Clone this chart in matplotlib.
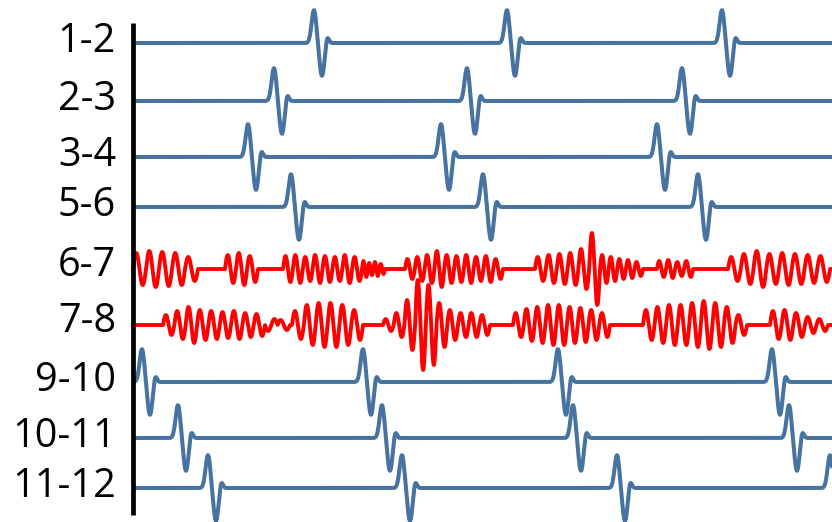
import matplotlib.pyplot as plt
import numpy as np

plt.rcParams['font.family'] = ['Open Sans', 'DejaVu Sans']

# blue channels with regular complexes
blue_labels = ['1-2', '2-3', '3-4', '5-6', '9-10', '10-11', '11-12']
blue_baselines = [43, 101, 157, 207, 382, 438, 488]
blue_peaks = [
    [314, 507, 722],
    [274, 467, 682],
    [248, 441, 657],
    [291, 483, 698],
    [142, 363, 558, 772],
    [178, 382, 573, 789],
    [208, 402, 617, 830],
]

# complex shape: lobe offset from first peak, height, width (px)
lobe_offsets = [0, 8, 13]
lobe_heights = [33, -33, 8]
lobe_widths = [2.4, 2.5, 1.7]

# red channels (fibrillation): bursts as (start, end, amplitude of each cycle)
red_labels = ['6-7', '7-8']
red_baselines = [269, 325]
red_bursts = [
    [(133, 198, [16, 18, 17, 16, 12]),
     (225, 258, [14, 16, 13]),
     (283, 362, [13, 14, 12, 14, 13, 12, 14, 12]),
     (362, 385, [8, 6, 7, 5]),
     (405, 503, [10, 12, 14, 18, 14, 13, 14, 12, 13, 10]),
     (535, 600, [12, 14, 15, 16, 20, 36]),
     (600, 643, [14, 12, 10, 9, 7]),
     (657, 693, [8, 9, 7, 8]),
     (728, 830, [12, 15, 18, 15, 16, 15, 14, 13])],
    [(163, 265, [10, 14, 18, 15, 14, 13, 14, 12, 11]),
     (265, 290, [-6, 5]),
     (292, 363, [14, 20, 22, 22, 20, 15]),
     (383, 490, [6, 12, 25, 45, 40, 22, 15, 12, 12, 10]),
     (513, 610, [12, 16, 18, 20, 20, 18, 17, 15, 12]),
     (643, 747, [15, 18, 20, 20, 22, 24, 22, 18, 10]),
     (770, 828, [14, 15, 12, 8, 6])],
]

blue = '#4673A0'
red = '#FF0000'

fig = plt.figure(figsize=(8.32, 5.22), dpi=100)
ax = fig.add_axes([0, 0, 1, 1])
ax.set_xlim(0, 832)
ax.set_ylim(522, 0)
ax.axis('off')

# blue traces
x = np.linspace(135, 832, 3000)
for label, base, peaks in zip(blue_labels, blue_baselines, blue_peaks):
    sig = np.zeros_like(x)
    for p in peaks:
        for off, h, w in zip(lobe_offsets, lobe_heights, lobe_widths):
            sig += h * np.exp(-0.5 * ((x - p - off) / w) ** 2)
    ax.plot(x, base - sig, color=blue, lw=2.9, solid_capstyle='round')
    ax.text(116, base - 1, label, ha='right', va='center', fontsize=28.5)

# red traces
xr = np.linspace(133, 832, 4000)
for label, base, bursts in zip(red_labels, red_baselines, red_bursts):
    sig = np.zeros_like(xr)
    for start, end, amps in bursts:
        period = (end - start) / len(amps)
        m = (xr >= start) & (xr < end)
        u = (xr[m] - start) / period
        k = np.minimum(u.astype(int), len(amps) - 1)
        sig[m] = np.array(amps)[k] * np.sin(2 * np.pi * u)
    ax.plot(xr, base - sig, color=red, lw=2.8)
    ax.text(116, base - 3, label, ha='right', va='center', fontsize=28.5)

# vertical axis bar
ax.plot([133, 133], [23, 515], color='black', lw=3.4, solid_capstyle='butt')

plt.savefig('out.png')
plt.close()
